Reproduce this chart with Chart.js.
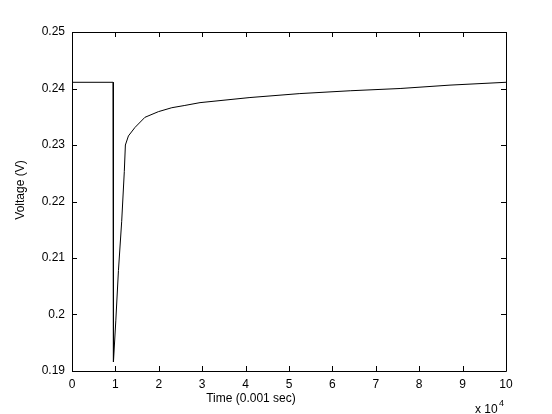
<!DOCTYPE html>
<html>
<head>
<meta charset="utf-8">
<title>Voltage vs time</title>
<script src="https://cdn.jsdelivr.net/npm/chart.js@4.4.1/dist/chart.umd.min.js"></script>
<style>
  html, body { margin: 0; padding: 0; background: #fff; }
  canvas { display: block; }
</style>
</head>
<body>
<canvas id="voltageChart" width="552" height="414"></canvas>
<script>
// time in units of 10^4 x 0.001 sec
const timeValues = [0, 0.945, 0.955, 1.01, 1.07, 1.145, 1.205, 1.23, 1.30, 1.45, 1.68, 1.99, 2.30, 2.60, 2.95, 4.10, 5.25, 6.41, 7.56, 8.71, 10.0];
const voltageValues = [0.2411, 0.2411, 0.1916, 0.1990, 0.2078, 0.2165, 0.2253, 0.2300, 0.2316, 0.2331, 0.2349, 0.2359, 0.2366, 0.2370, 0.2375, 0.2384, 0.2391, 0.2396, 0.2400, 0.2406, 0.2411];

const xTickLabels = ['0', '1', '2', '3', '4', '5', '6', '7', '8', '9', '10'];
const yTickLabels = ['0.19', '0.2', '0.21', '0.22', '0.23', '0.24', '0.25'];

const xTitle = 'Time (0.001 sec)';
const yTitle = 'Voltage (V)';

const FONT = '"Liberation Sans", Arial, sans-serif';

// box around the axes, inward ticks on all four sides, axis titles
const matlabAxes = {
    id: 'matlabAxes',
    afterDraw(chart) {
        const ctx = chart.ctx;
        const x = chart.scales.x;
        const y = chart.scales.y;
        const left = x.left, right = x.right, top = y.top, bottom = y.bottom;
        const tick = 5;

        ctx.save();
        ctx.strokeStyle = '#000';
        ctx.lineWidth = 1;
        ctx.beginPath();
        ctx.rect(Math.round(left) + 0.5, Math.round(top) + 0.5,
                 Math.round(right - left), Math.round(bottom - top));
        x.ticks.forEach(t => {
            const px = Math.round(x.getPixelForValue(t.value)) + 0.5;
            ctx.moveTo(px, bottom); ctx.lineTo(px, bottom - tick);
            ctx.moveTo(px, top); ctx.lineTo(px, top + tick);
        });
        y.ticks.forEach(t => {
            const py = Math.round(y.getPixelForValue(t.value)) + 0.5;
            ctx.moveTo(left, py); ctx.lineTo(left + tick, py);
            ctx.moveTo(right, py); ctx.lineTo(right - tick, py);
        });
        ctx.stroke();

        ctx.fillStyle = '#000';
        ctx.font = '12px ' + FONT;
        ctx.textAlign = 'center';
        ctx.textBaseline = 'middle';
        ctx.fillText(xTitle, 251, 399);

        ctx.save();
        ctx.translate(21, 190);
        ctx.rotate(-Math.PI / 2);
        ctx.fillText(yTitle, 0, 0);
        ctx.restore();

        // exponent label under the right end of the x axis
        ctx.textAlign = 'left';
        ctx.textBaseline = 'alphabetic';
        ctx.fillText('x 10', 475, 413);
        ctx.font = '9px ' + FONT;
        ctx.fillText('4', 499, 406);
        ctx.restore();
    }
};

const ctx = document.querySelector('#voltageChart').getContext('2d');

new Chart(ctx, {
    type: 'line',
    data: {
        datasets: [{
            data: timeValues.map((t, i) => ({ x: t, y: voltageValues[i] })),
            borderColor: '#000',
            borderWidth: 1,
            pointRadius: 0,
            tension: 0,
            fill: false
        }]
    },
    options: {
        responsive: false,
        animation: false,
        layout: { padding: { left: 0, top: 32, right: 46, bottom: 0 } },
        plugins: {
            legend: { display: false },
            tooltip: { enabled: false }
        },
        scales: {
            x: {
                type: 'linear',
                min: 0,
                max: 10,
                grid: { display: false, drawTicks: false },
                border: { display: false },
                ticks: {
                    stepSize: 1,
                    padding: 6,
                    color: '#000',
                    font: { family: FONT, size: 12 },
                    maxRotation: 0,
                    callback: (v) => xTickLabels[Math.round(v)]
                },
                afterFit: (scale) => { scale.height = 43; }
            },
            y: {
                min: 0.19,
                max: 0.25,
                grid: { display: false, drawTicks: false },
                border: { display: false },
                ticks: {
                    stepSize: 0.01,
                    padding: 7,
                    color: '#000',
                    font: { family: FONT, size: 12 },
                    callback: (v) => yTickLabels[Math.round((v - 0.19) * 100)]
                },
                afterFit: (scale) => { scale.width = 72; }
            }
        }
    },
    plugins: [matlabAxes]
});
</script>
</body>
</html>
